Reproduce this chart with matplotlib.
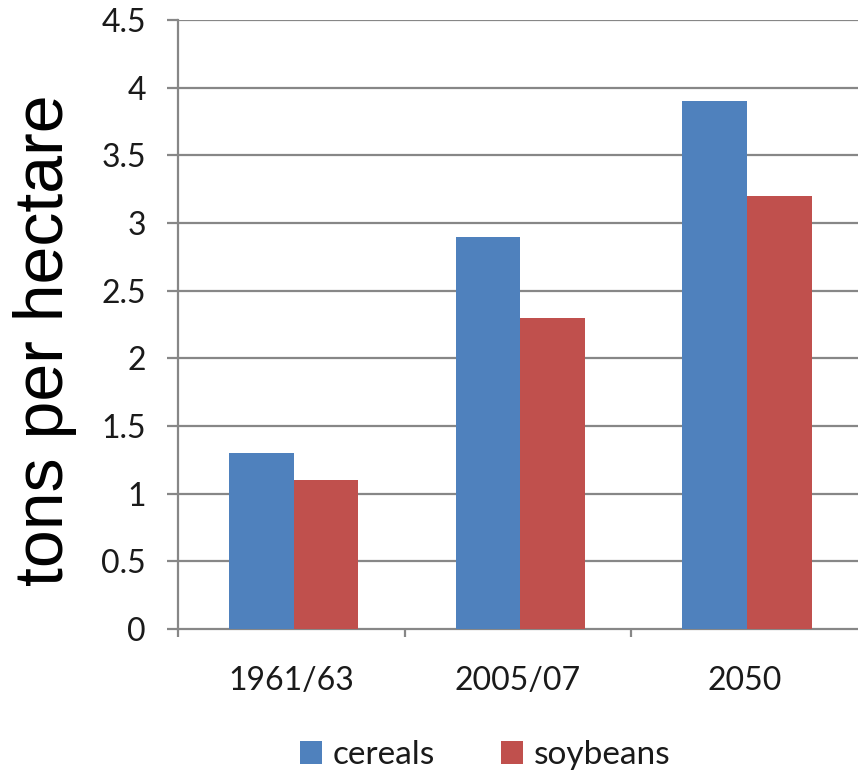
import matplotlib
matplotlib.use("Agg")
import matplotlib.pyplot as plt
import numpy as np

categories = ["1961/63", "2005/07", "2050"]
cereals = [1.3, 2.9, 3.9]
soybeans = [1.1, 2.3, 3.2]
yticks = [0, 0.5, 1, 1.5, 2, 2.5, 3, 3.5, 4, 4.5]
ytick_labels = ["0", "0.5", "1", "1.5", "2", "2.5", "3", "3.5", "4", "4.5"]

blue = "#4F81BD"
red = "#C0504D"
grid = "#878787"

fig = plt.figure(figsize=(8.58, 7.72), dpi=100)
ax = fig.add_axes([178 / 858, 143 / 772, 680 / 858, 609 / 772])

x = np.arange(len(categories))
w = 0.285
ax.bar(x + 0.01 - w / 2, cereals, w, color=blue, label="cereals", zorder=3)
ax.bar(x + 0.01 + w / 2, soybeans, w, color=red, label="soybeans", zorder=3)

ax.set_xlim(-0.5, 2.5)
ax.set_ylim(0, 4.5)
ax.set_yticks(yticks)
ax.set_yticklabels(ytick_labels)
ax.set_xticks(x)
ax.set_xticklabels(categories)
ax.set_xticks([-0.5, 0.5, 1.5], minor=True)

for v in yticks[1:]:
    ax.axhline(v, color=grid, lw=1.6, zorder=1)

for s in ["top", "right"]:
    ax.spines[s].set_visible(False)
for s in ["left", "bottom"]:
    ax.spines[s].set_color(grid)
    ax.spines[s].set_linewidth(1.6)

ax.tick_params(axis="y", length=8, width=1.6, color=grid, pad=15,
               labelsize=23, labelcolor="#1a1a1a")
ax.tick_params(axis="x", which="major", length=0, pad=27,
               labelsize=23, labelcolor="#1a1a1a")
ax.tick_params(axis="x", which="minor", length=6, width=1.6, color=grid)
for lab in ax.get_xticklabels() + ax.get_yticklabels():
    lab.set_family("Lato")

fig.text(45 / 858, 1 - 340 / 772, "tons per hectare", rotation=90,
         fontsize=49, family="Liberation Sans", ha="center", va="center")

fig.legend(loc="center", bbox_to_anchor=(485 / 858, 1 - 755 / 772),
           ncol=2, frameon=False, prop={"family": "Lato", "size": 24},
           handlelength=0.67, handleheight=0.67, handletextpad=0.3,
           columnspacing=2.0, labelcolor="#1a1a1a")

fig.savefig("out.png", dpi=100)
